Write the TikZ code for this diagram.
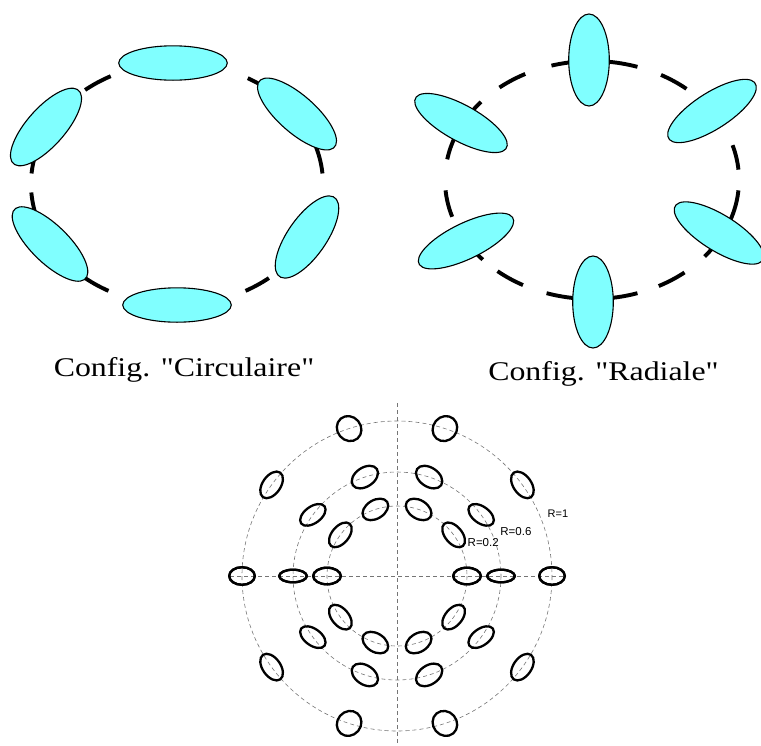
\documentclass[tikz,border=0pt]{standalone}
\usepackage{fontspec}
\setmainfont{Liberation Serif}
\newfontfamily\labelserif{Liberation Serif}[Ligatures=TeXOff]
\newfontfamily\labelsans{Liberation Sans}
\definecolor{cyanfill}{HTML}{80FFFF}
\definecolor{guidegray}{HTML}{757575}
\begin{document}
\begin{tikzpicture}[x=1pt,y=-1pt,
  thickdash/.style={line width=3.9pt, line cap=butt, line join=round},
  cyanell/.style={fill=cyanfill, draw=black, line width=1.1pt},
  guide/.style={draw=guidegray, line width=0.6pt, dash pattern=on 4pt off 3pt},
  blackell/.style={draw=black, line width=2.3pt},
  biglabel/.style={font=\labelserif\fontsize{27}{32}\selectfont, xscale=1.18, anchor=base, inner sep=0pt},
  smalllabel/.style={font=\labelsans\fontsize{11}{13}\selectfont, anchor=base west, inner sep=0pt}
]
\useasboundingbox (0,0) rectangle (761,745);

% ---------- Config. "Circulaire" ----------
\foreach \s/\e in {117/129, 48/61, 5/18, -62/-51, 231/242, 184/197, 160/175}{
  \draw[thickdash] plot[domain=\s:\e, samples=12, smooth] ({177+146*cos(\x)},{184-121*sin(\x)});
}
\foreach \cx/\cy/\ang in {173/63/0, 177/305/0, 297/114/-47.7, 307/237/61, 46/127/54.6, 50/244/-50.7}{
  \draw[cyanell, shift={(\cx,\cy)}, xscale=1.18, rotate=\ang] (0,0) ellipse [x radius=46, y radius=17.2];
}
\node[biglabel] (lblcirc) at (184,376.7) {Config. "Circulaire"};

% ---------- Config. "Radiale" ----------
\foreach \s/\e in {5/17, 50/62, 72/106, 117/129, 139/170, 185/198, 207/222, 230/242, 252/288, 297/309, 320/355}{
  \draw[thickdash] plot[domain=\s:\e, samples=14, smooth] ({592+147*cos(\x)},{180-119*sin(\x)});
}
\foreach \cx/\cy/\ang in {589/60/90, 593/302/90, 461/123/-34.3, 712/111/38.5, 466/241/31, 719/233/-37.5}{
  \draw[cyanell, shift={(\cx,\cy)}, xscale=1.18, rotate=\ang] (0,0) ellipse [x radius=46, y radius=17.2];
}
\node[biglabel] (lblrad) at (603.5,380) {Config. "Radiale"};

% ---------- Bottom pattern ----------
\coordinate (ctr) at (397,576);
\draw[guide] (ctr) circle [radius=155];
\draw[guide] (ctr) circle [radius=104];
\draw[guide] (ctr) circle [radius=70];
\coordinate (hl) at (230,576);
\coordinate (hr) at (565,576);
\coordinate (vt) at (397,403);
\coordinate (vb) at (397,745);
\draw[guide] (hl) -- (hr);
\draw[guide] (vt) -- (vb);

\foreach \r/\t/\a/\b/\p in {155/0/12.8/8.8/0, 155/36/15/9/-55, 155/72/13/11.8/50,
                            104/0/13.8/6.3/0, 104/36/14.5/8.3/-36, 104/72/14.5/9.5/-34,
                            70/0/13.8/8.3/0, 70/36/14.5/8.5/-50, 70/72/14/9.2/-32}{
  \draw[blackell, shift={({397+\r*cos(\t)},{576-\r*sin(\t)})}, rotate=\p] (0,0) ellipse [x radius=\a, y radius=\b];
  \draw[blackell, shift={({397-\r*cos(\t)},{576-\r*sin(\t)})}, rotate=-\p] (0,0) ellipse [x radius=\a, y radius=\b];
  \draw[blackell, shift={({397+\r*cos(\t)},{576+\r*sin(\t)})}, rotate=-\p] (0,0) ellipse [x radius=\a, y radius=\b];
  \draw[blackell, shift={({397-\r*cos(\t)},{576+\r*sin(\t)})}, rotate=\p] (0,0) ellipse [x radius=\a, y radius=\b];
}

\node[smalllabel] (r1) at (547.5,517.3) {R=1};
\node[smalllabel, font=\labelsans\fontsize{11.5}{13}\selectfont] (r06) at (500.2,535.7) {R=0.6};
\node[smalllabel, font=\labelsans\fontsize{11.5}{13}\selectfont] (r02) at (467.5,546.3) {R=0.2};
\end{tikzpicture}
\end{document}
